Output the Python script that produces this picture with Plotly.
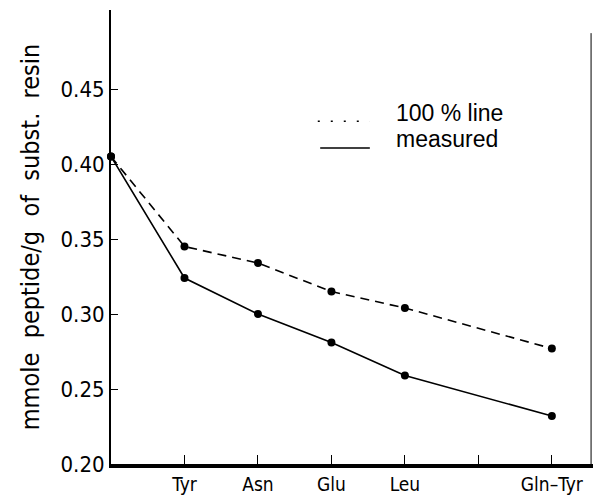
import plotly.graph_objects as go

# Data
positions = [0, 1, 2, 3, 4, 6]
tick_positions = [1, 2, 3, 4, 5, 6]
tick_labels = ["Tyr", "Asn", "Glu", "Leu", "", "Gln\u2013Tyr"]
line_100 = [0.405, 0.345, 0.334, 0.315, 0.304, 0.277]
measured = [0.405, 0.324, 0.300, 0.281, 0.259, 0.232]
y_ticks = [0.20, 0.25, 0.30, 0.35, 0.40, 0.45]
y_tick_labels = ["0.20", "0.25", "0.30", "0.35", "0.40", "0.45"]

cond = "DejaVu Sans Condensed, Liberation Sans Narrow, DejaVu Sans"
gap = "\u00a0\u00a0"
y_title = gap.join(["mmole", "peptide/g", "of", "subst.", "resin"])

fig = go.Figure()
fig.add_trace(go.Scatter(
    x=positions, y=line_100, mode="lines+markers",
    line=dict(color="black", width=1.6, dash="9px,6px"),
    marker=dict(color="black", size=8, symbol="circle"),
    showlegend=False, cliponaxis=False))
fig.add_trace(go.Scatter(
    x=positions, y=measured, mode="lines+markers",
    line=dict(color="black", width=1.6),
    marker=dict(color="black", size=8, symbol="circle"),
    showlegend=False, cliponaxis=False))

# Legend (drawn manually to mimic the original)
fig.add_shape(type="line", xref="paper", yref="paper",
              x0=0.429, x1=0.537, y0=0.755, y1=0.755,
              line=dict(color="black", width=1.6, dash="2px,11px"))
fig.add_shape(type="line", xref="paper", yref="paper",
              x0=0.434, x1=0.537, y0=0.696, y1=0.696,
              line=dict(color="black", width=1.6))
fig.add_annotation(xref="paper", yref="paper", x=0.587, y=0.773,
                   text="100 % line", showarrow=False, xanchor="left",
                   yanchor="middle",
                   font=dict(family="Liberation Sans, Arial", size=23, color="black"))
fig.add_annotation(xref="paper", yref="paper", x=0.587, y=0.716,
                   text="measured", showarrow=False, xanchor="left",
                   yanchor="middle",
                   font=dict(family="Liberation Sans, Arial", size=23, color="black"))

# Right border line
fig.add_shape(type="line", xref="paper", yref="paper",
              x0=0.996, x1=0.996, y0=0, y1=0.949,
              line=dict(color="black", width=1))

fig.update_layout(
    width=595, height=498,
    margin=dict(l=111, r=2, t=10, b=34),
    plot_bgcolor="white", paper_bgcolor="white",
    font=dict(family=cond, color="black"),
    xaxis=dict(range=[0, 6.56], showgrid=False, zeroline=False,
               tickmode="array", tickvals=tick_positions, ticktext=tick_labels,
               ticks="inside", ticklen=9, tickwidth=1, tickcolor="black",
               showline=True, linecolor="black", linewidth=4,
               tickfont=dict(family=cond, size=19, color="black")),
    yaxis=dict(range=[0.2, 0.5027], showgrid=False, zeroline=False,
               tickmode="array", tickvals=y_ticks, ticktext=y_tick_labels,
               ticks="inside", ticklen=7, tickwidth=1, tickcolor="black",
               showline=True, linecolor="black", linewidth=2,
               tickfont=dict(family=cond, size=22, color="black"),
               title=dict(text=y_title,
                          font=dict(family=cond, size=25, color="black"),
                          standoff=14)),
)

fig.write_html("out.html",
               config={"displayModeBar": False},
               post_script="document.body.style.margin='0';document.body.style.overflow='hidden';")
